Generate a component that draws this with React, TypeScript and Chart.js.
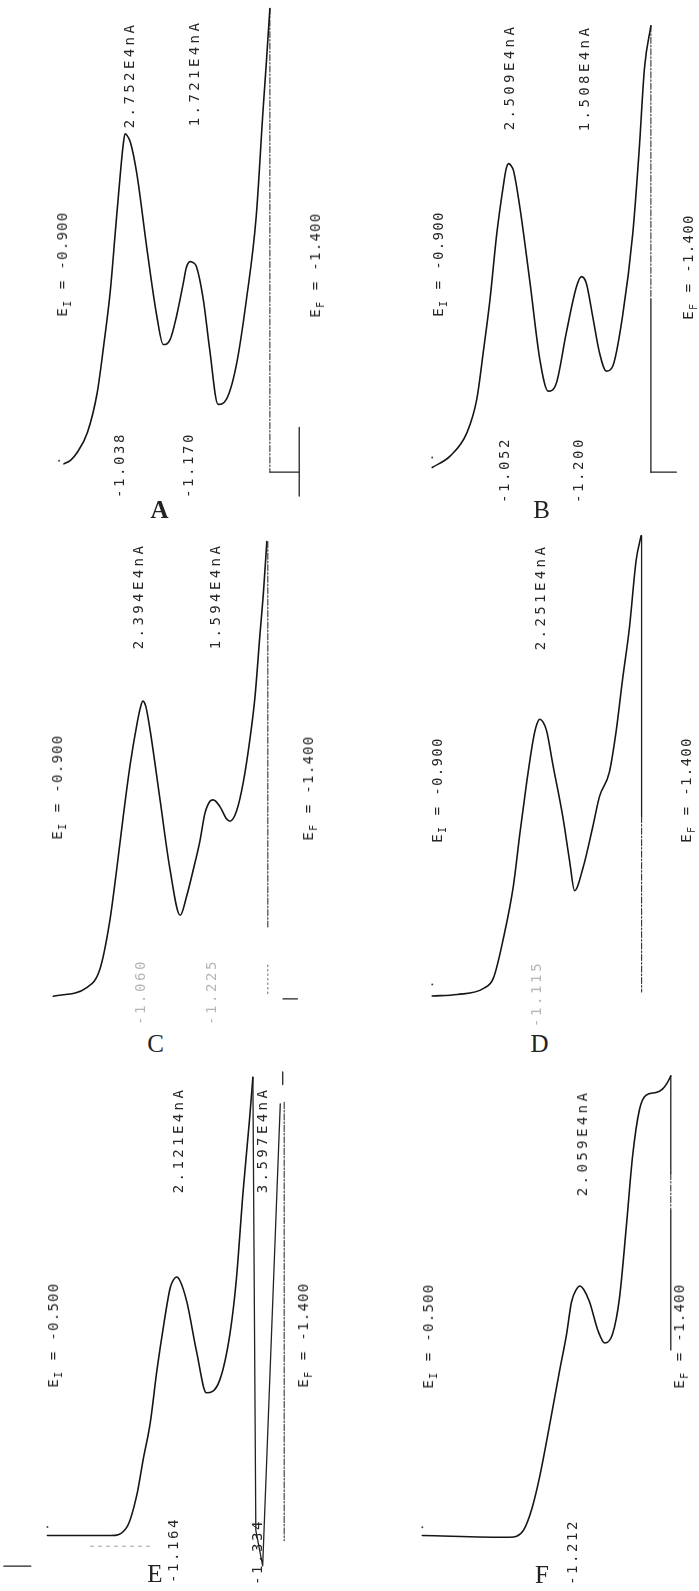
import React, { useEffect, useRef } from "react";
import { Chart, registerables } from "chart.js";

Chart.register(...registerables);

// ---------------- DATA (potential E in V, current i in 1E4 nA) ----------------
// Panel A
const curveA_E = [-0.900, -0.914, -0.927, -0.948, -0.968, -0.981, -0.995, -1.005, -1.015, -1.021, -1.025, -1.029, -1.036, -1.049, -1.070, -1.090, -1.103, -1.117, -1.130, -1.144, -1.150, -1.158, -1.165, -1.171, -1.185, -1.198, -1.215, -1.232, -1.252, -1.273, -1.293, -1.307, -1.314, -1.321];
const curveA_I = [-0.010, 0.021, 0.085, 0.252, 0.585, 0.971, 1.446, 1.929, 2.404, 2.654, 2.752, 2.738, 2.679, 2.418, 1.779, 1.223, 0.988, 1.029, 1.223, 1.502, 1.629, 1.682, 1.671, 1.640, 1.363, 0.946, 0.488, 0.529, 0.807, 1.363, 2.057, 2.946, 3.360, 3.800];
const returnA_E = [-1.321, -1.321];
const returnA_I = [3.800, -0.079];
const baseA_E = [-1.321, -1.381];
const baseA_I = [-0.079, -0.079];
const markA_E = [-1.381, -1.381];
const markA_I = [0.296, -0.279];
const dotA_E = [-0.890];
const dotA_I = [0.015];

// Panel B
const curveB_E = [-0.900, -0.937, -0.971, -0.991, -1.005, -1.018, -1.032, -1.046, -1.051, -1.056, -1.061, -1.066, -1.079, -1.100, -1.120, -1.137, -1.154, -1.174, -1.195, -1.205, -1.215, -1.228, -1.242, -1.256, -1.269, -1.289, -1.310, -1.323, -1.334, -1.347];
const curveB_I = [-0.033, 0.064, 0.259, 0.537, 0.953, 1.370, 1.926, 2.343, 2.463, 2.509, 2.493, 2.453, 2.148, 1.509, 0.870, 0.606, 0.676, 1.093, 1.481, 1.564, 1.509, 1.231, 0.926, 0.773, 0.814, 1.231, 1.926, 2.620, 3.314, 3.662];
const returnB1_E = [-1.347, -1.347];
const returnB1_I = [3.662, 1.370];
const returnB2_E = [-1.347, -1.347];
const returnB2_I = [1.370, -0.072];
const baseB_E = [-1.347, -1.399];
const baseB_I = [-0.072, -0.072];
const dotB_E = [-0.900];
const dotB_I = [0.050];

// Panel C
const curveC_E = [-0.900, -0.968, -0.995, -1.015, -1.029, -1.042, -1.056, -1.070, -1.077, -1.082, -1.088, -1.097, -1.117, -1.137, -1.158, -1.171, -1.185, -1.198, -1.208, -1.218, -1.225, -1.239, -1.252, -1.259, -1.273, -1.286, -1.300, -1.310, -1.320, -1.327, -1.334];
const curveC_I = [-0.065, 0.007, 0.164, 0.567, 0.997, 1.428, 1.858, 2.202, 2.340, 2.394, 2.350, 2.145, 1.571, 0.997, 0.609, 0.768, 0.997, 1.227, 1.456, 1.557, 1.571, 1.513, 1.413, 1.393, 1.485, 1.714, 2.088, 2.432, 2.948, 3.293, 3.723];
const returnC1_E = [-1.336, -1.336];
const returnC1_I = [3.723, 0.512];
const returnC2_E = [-1.336, -1.336];
const returnC2_I = [0.195, -0.065];
const markC_E = [-1.367, -1.396];
const markC_I = [-0.088, -0.088];

// Panel D
const curveD_E = [-0.900, -0.951, -1.005, -1.025, -1.046, -1.066, -1.079, -1.093, -1.107, -1.114, -1.120, -1.127, -1.134, -1.147, -1.167, -1.181, -1.191, -1.208, -1.228, -1.242, -1.262, -1.276, -1.289, -1.303, -1.317, -1.327];
const curveD_I = [-0.065, -0.053, -0.002, 0.084, 0.428, 0.859, 1.289, 1.720, 2.093, 2.210, 2.251, 2.225, 2.151, 1.863, 1.433, 1.060, 0.816, 1.003, 1.347, 1.605, 1.806, 2.151, 2.581, 3.012, 3.585, 3.786];
const returnD1_E = [-1.328, -1.328];
const returnD1_I = [3.786, 1.436];
const returnD2_E = [-1.328, -1.328];
const returnD2_I = [1.436, -0.031];
const dotD_E = [-0.900];
const dotD_I = [0.030];

// Panel E
const curveE_E = [-0.900, -1.029, -1.063, -1.083, -1.096, -1.110, -1.124, -1.137, -1.151, -1.158, -1.164, -1.171, -1.185, -1.205, -1.225, -1.252, -1.273, -1.286, -1.300, -1.313, -1.320];
const curveE_I = [-0.041, -0.041, 0.034, 0.303, 0.601, 0.898, 1.346, 1.703, 2.032, 2.100, 2.121, 2.090, 1.913, 1.495, 1.153, 1.257, 1.644, 2.092, 2.837, 3.433, 3.791];
const reverseE_E = [-1.320, -1.326, -1.340, -1.376];
const reverseE_I = [3.791, 0.003, -0.294, 3.570];
const returnE_E = [-1.384, -1.384];
const returnE_I = [3.582, -0.085];
const markE_E = [-1.381, -1.381];
const markE_I = [3.837, 3.731];
const faintE_E = [-0.988, -1.116];
const faintE_I = [-0.130, -0.130];
const tickE_E = [-0.811, -0.866];
const tickE_I = [-0.297, -0.297];
const dotE_E = [-0.900];
const dotE_I = [0.030];

// Panel F
const curveF_E = [-0.900, -1.079, -1.107, -1.124, -1.140, -1.161, -1.181, -1.195, -1.205, -1.215, -1.222, -1.230, -1.242, -1.259, -1.273, -1.289, -1.303, -1.317, -1.330, -1.344, -1.357, -1.378, -1.391, -1.401, -1.408];
const curveF_I = [-0.028, -0.043, 0.017, 0.196, 0.464, 0.911, 1.358, 1.657, 1.925, 2.030, 2.059, 2.030, 1.925, 1.687, 1.582, 1.657, 1.955, 2.551, 3.148, 3.535, 3.654, 3.677, 3.705, 3.760, 3.816];
const returnF1_E = [-1.408, -1.408];
const returnF1_I = [3.816, 3.000];
const returnF2_E = [-1.408, -1.408];
const returnF2_I = [3.000, 2.690];
const returnF3_E = [-1.408, -1.408];
const returnF3_I = [2.690, 1.524];
const dotF_E = [-0.900];
const dotF_I = [0.040];

// Text
const panelLetters = ["A", "B", "C", "D", "E", "F"];
const startPotentials = ["-0.900", "-0.900", "-0.900", "-0.900", "-0.500", "-0.500"];
const endPotentials = ["-1.400", "-1.400", "-1.400", "-1.400", "-1.400", "-1.400"];
const peakCurrents = [
  ["2.752E4nA", "1.721E4nA"],
  ["2.509E4nA", "1.508E4nA"],
  ["2.394E4nA", "1.594E4nA"],
  ["2.251E4nA"],
  ["2.121E4nA", "3.597E4nA"],
  ["2.059E4nA"],
];
const peakPotentials = [
  ["-1.038", "-1.170"],
  ["-1.052", "-1.200"],
  ["-1.060", "-1.225"],
  ["-1.115"],
  ["-1.164", "-1.334"],
  ["-1.212"],
];

// ---------------- LAYOUT / STYLE ----------------
type Kind = "curve" | "solid" | "dashdot" | "dotted" | "faint" | "dot";
type Trace = { e: number[]; i: number[]; kind: Kind };
type Frame = { left: number; top: number; width: number; height: number; x0: number; y0: number };

const PX_PER_VOLT = 492;
const PX_PER_UNIT = 120;
const E_START = -0.9;

const frames: Frame[] = [
  { left: 0, top: 0, width: 349, height: 505, x0: 63.3, y0: 463.5 },
  { left: 350, top: 0, width: 349, height: 505, x0: 431.7, y0: 464.4 },
  { left: 0, top: 525, width: 349, height: 485, x0: 53.3, y0: 988.4 },
  { left: 350, top: 525, width: 349, height: 485, x0: 431.7, y0: 989.1 },
  { left: 0, top: 1060, width: 349, height: 531, x0: 46.7, y0: 1531.4 },
  { left: 350, top: 1060, width: 349, height: 531, x0: 421.7, y0: 1532.9 },
];

const panelTraces: Trace[][] = [
  [
    { e: curveA_E, i: curveA_I, kind: "curve" },
    { e: returnA_E, i: returnA_I, kind: "dashdot" },
    { e: baseA_E, i: baseA_I, kind: "solid" },
    { e: markA_E, i: markA_I, kind: "solid" },
    { e: dotA_E, i: dotA_I, kind: "dot" },
  ],
  [
    { e: curveB_E, i: curveB_I, kind: "curve" },
    { e: returnB1_E, i: returnB1_I, kind: "dashdot" },
    { e: returnB2_E, i: returnB2_I, kind: "solid" },
    { e: baseB_E, i: baseB_I, kind: "solid" },
    { e: dotB_E, i: dotB_I, kind: "dot" },
  ],
  [
    { e: curveC_E, i: curveC_I, kind: "curve" },
    { e: returnC1_E, i: returnC1_I, kind: "dashdot" },
    { e: returnC2_E, i: returnC2_I, kind: "dotted" },
    { e: markC_E, i: markC_I, kind: "solid" },
  ],
  [
    { e: curveD_E, i: curveD_I, kind: "curve" },
    { e: returnD1_E, i: returnD1_I, kind: "solid" },
    { e: returnD2_E, i: returnD2_I, kind: "dashdot" },
    { e: dotD_E, i: dotD_I, kind: "dot" },
  ],
  [
    { e: curveE_E, i: curveE_I, kind: "curve" },
    { e: reverseE_E, i: reverseE_I, kind: "solid" },
    { e: returnE_E, i: returnE_I, kind: "dashdot" },
    { e: markE_E, i: markE_I, kind: "solid" },
    { e: faintE_E, i: faintE_I, kind: "faint" },
    { e: tickE_E, i: tickE_I, kind: "solid" },
    { e: dotE_E, i: dotE_I, kind: "dot" },
  ],
  [
    { e: curveF_E, i: curveF_I, kind: "curve" },
    { e: returnF1_E, i: returnF1_I, kind: "solid" },
    { e: returnF2_E, i: returnF2_I, kind: "dashdot" },
    { e: returnF3_E, i: returnF3_I, kind: "solid" },
    { e: dotF_E, i: dotF_I, kind: "dot" },
  ],
];

const letterPos = [[159.5, 509], [541.5, 509], [155.5, 1042.5], [539.5, 1042.5], [155, 1573], [542, 1574]];
const letterBold = [true, false, false, false, false, false];
const startPos = [[62.5, 263.5], [438.5, 264], [57.5, 787], [438, 790], [54, 1335], [429, 1336]];
const endPos = [[316, 265], [689, 267], [309, 788], [687, 790], [304, 1335], [680, 1336]];
const peakCurrentPos = [
  [[129, 75], [194, 72.5]],
  [[508.5, 77], [584, 78]],
  [[138, 596], [215, 596]],
  [[540, 597]],
  [[178, 1140], [262, 1140]],
  [[581.5, 1143]],
];
const peakPotentialPos = [
  [[119, 465], [187.5, 465]],
  [[504, 470], [578, 470]],
  [[140, 992], [211, 992]],
  [[536, 994]],
  [[173, 1550], [257, 1552]],
  [[572, 1552]],
];
const fadedPotentialLabels = [false, false, true, true, false, false];

const styleFor = (kind: Kind) => {
  switch (kind) {
    case "curve":
      return { borderColor: "#151515", borderWidth: 1.6, borderDash: [] as number[] };
    case "solid":
      return { borderColor: "#222222", borderWidth: 1.3, borderDash: [] as number[] };
    case "dashdot":
      return { borderColor: "#333333", borderWidth: 1.1, borderDash: [6, 2, 1.5, 2] };
    case "dotted":
      return { borderColor: "#666666", borderWidth: 1, borderDash: [1.5, 3] };
    case "dot":
      return { borderColor: "#444444", borderWidth: 1, borderDash: [] as number[] };
    default:
      return { borderColor: "#9a9a9a", borderWidth: 1, borderDash: [3, 5] };
  }
};

function Panel({ frame, traces }: { frame: Frame; traces: Trace[] }) {
  const ref = useRef<HTMLCanvasElement>(null);
  useEffect(() => {
    if (!ref.current) return;
    const eLeft = E_START + (frame.x0 - frame.left) / PX_PER_VOLT;
    const eRight = E_START - (frame.left + frame.width - frame.x0) / PX_PER_VOLT;
    const iTop = (frame.y0 - frame.top) / PX_PER_UNIT;
    const iBottom = (frame.y0 - frame.top - frame.height) / PX_PER_UNIT;
    const chart = new Chart(ref.current, {
      type: "scatter",
      data: {
        datasets: traces.map((t) => ({
          data: t.e.map((e, k) => ({ x: e, y: t.i[k] })),
          showLine: t.kind !== "dot",
          pointRadius: t.kind === "dot" ? 1 : 0,
          pointBackgroundColor: "#444444",
          pointBorderWidth: 0,
          pointHoverRadius: 0,
          fill: false,
          tension: 0,
          cubicInterpolationMode: t.kind === "curve" ? "monotone" : "default",
          borderCapStyle: "round",
          borderJoinStyle: "round",
          ...styleFor(t.kind),
        })) as any,
      },
      options: {
        animation: false,
        responsive: false,
        maintainAspectRatio: false,
        events: [],
        layout: { padding: 0 },
        plugins: { legend: { display: false }, tooltip: { enabled: false }, title: { display: false } },
        scales: {
          x: { type: "linear", reverse: true, min: eRight, max: eLeft, display: false },
          y: { type: "linear", min: iBottom, max: iTop, display: false },
        },
      },
    });
    return () => chart.destroy();
  }, []);
  return (
    <canvas
      ref={ref}
      width={frame.width}
      height={frame.height}
      style={{ position: "absolute", left: frame.left, top: frame.top, width: frame.width, height: frame.height }}
    />
  );
}

const monoFont = "'DejaVu Sans Mono', 'Liberation Mono', monospace";

function RotText({ x, y, spacing, color, children }: { x: number; y: number; spacing: number; color?: string; children: React.ReactNode }) {
  return (
    <div
      style={{
        position: "absolute",
        left: x,
        top: y,
        transform: "translate(-50%, -50%) rotate(-90deg)",
        whiteSpace: "nowrap",
        fontFamily: monoFont,
        fontSize: 14,
        lineHeight: "14px",
        letterSpacing: spacing,
        color: color || "#262626",
      }}
    >
      {children}
    </div>
  );
}

function Sub({ children }: { children: React.ReactNode }) {
  return <span style={{ fontSize: 10, position: "relative", top: 4, letterSpacing: 0, marginRight: 2 }}>{children}</span>;
}

export default function App() {
  return (
    <div style={{ position: "absolute", left: 0, top: 0, width: 699, height: 1591, overflow: "hidden", background: "#ffffff" }}>
      {frames.map((f, p) => (
        <Panel key={"c" + p} frame={f} traces={panelTraces[p]} />
      ))}
      {panelLetters.map((letter, p) => (
        <div
          key={"l" + p}
          style={{
            position: "absolute",
            left: letterPos[p][0],
            top: letterPos[p][1],
            transform: "translate(-50%, -50%)",
            fontFamily: "'Liberation Serif', 'DejaVu Serif', serif",
            fontSize: 25,
            lineHeight: "25px",
            fontWeight: letterBold[p] ? 700 : 400,
            color: "#222",
          }}
        >
          {letter}
        </div>
      ))}
      {startPotentials.map((v, p) => (
        <RotText key={"s" + p} x={startPos[p][0]} y={startPos[p][1]} spacing={1.3}>
          E<Sub>I</Sub> = {v}
        </RotText>
      ))}
      {endPotentials.map((v, p) => (
        <RotText key={"e" + p} x={endPos[p][0]} y={endPos[p][1]} spacing={1.3}>
          E<Sub>F</Sub> = {v}
        </RotText>
      ))}
      {peakCurrents.map((list, p) =>
        list.map((txt, k) => (
          <RotText key={"pc" + p + "_" + k} x={peakCurrentPos[p][k][0]} y={peakCurrentPos[p][k][1]} spacing={3.4}>
            {txt}
          </RotText>
        ))
      )}
      {peakPotentials.map((list, p) =>
        list.map((txt, k) => (
          <RotText
            key={"pp" + p + "_" + k}
            x={peakPotentialPos[p][k][0]}
            y={peakPotentialPos[p][k][1]}
            spacing={2.6}
            color={fadedPotentialLabels[p] ? "#b5b5b5" : "#262626"}
          >
            {txt}
          </RotText>
        ))
      )}
    </div>
  );
}
